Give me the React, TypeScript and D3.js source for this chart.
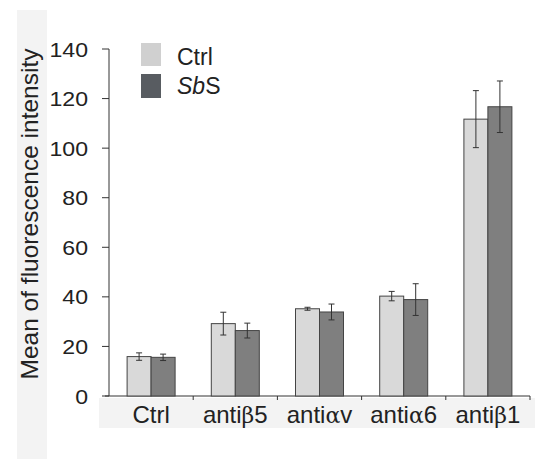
import React from "react";
import * as d3 from "d3";

const categories = ["Ctrl", "antiβ5", "antiαv", "antiα6", "antiβ1"];
const ctrlMeans = [15.9, 29.2, 35.2, 40.3, 111.7];
const ctrlErr = [1.5, 4.6, 0.6, 1.9, 11.5];
const sbsMeans = [15.6, 26.4, 33.9, 38.9, 116.7];
const sbsErr = [1.3, 3.0, 3.2, 6.4, 10.4];
const yTicks = [0, 20, 40, 60, 80, 100, 120, 140];

const W = 542;
const H = 459;
const FONT = "'Liberation Sans', Arial, sans-serif";

export default function App() {
  const x0 = 109, x1 = 530, yTop = 49, yBot = 396;
  const x = d3.scaleBand<string>().domain(categories).range([x0, x1]).padding(0);
  const y = d3.scaleLinear().domain([0, 140]).range([yBot, yTop]);
  const bw = 24;
  const series = [
    { means: ctrlMeans, errs: ctrlErr, fill: "#d9d9d9", off: -bw },
    { means: sbsMeans, errs: sbsErr, fill: "#7f7f7f", off: 0 },
  ];
  const renderLabel = (c: string) => {
    const m = c.match(/^anti([αβ])(.*)$/);
    if (!m) return c;
    return (
      <>
        anti<tspan fontFamily="'DejaVu Serif', serif" fontSize={22}>{m[1]}</tspan>{m[2]}
      </>
    );
  };
  return (
    <svg width={W} height={H} style={{ position: "absolute", left: 0, top: 0, background: "#fff" }}>
      <rect x={17} y={10} width={30} height={449} fill="#f3f3f3" />
      <rect x={99} y={398} width={436} height={30} fill="#f3f3f3" />
      <text
        transform={`translate(38,214) rotate(-90)`}
        textAnchor="middle"
        fontFamily={FONT}
        fontSize={24.5}
        fill="#222"
      >
        Mean of fluorescence intensity
      </text>
      {yTicks.map((t) => (
        <g key={t}>
          <line x1={x0 - 7} x2={x0} y1={y(t)} y2={y(t)} stroke="#333" strokeWidth={1} />
          <text
            transform={`translate(88,${y(t) + 7.5}) scale(1.1,1)`}
            textAnchor="end"
            fontFamily={FONT}
            fontSize={21}
            fill="#222"
          >
            {t}
          </text>
        </g>
      ))}
      <line x1={x0} x2={x0} y1={yTop} y2={yBot} stroke="#333" strokeWidth={1} />
      <line x1={x0 - 4} x2={x1} y1={yBot} y2={yBot} stroke="#333" strokeWidth={1} />
      {categories.map((c, i) => {
        const bx = x(c)! + x.bandwidth();
        return <line key={"t" + i} x1={bx} x2={bx} y1={yBot} y2={yBot + 4} stroke="#333" strokeWidth={1} />;
      })}
      {categories.map((c, i) => {
        const cx = x(c)! + x.bandwidth() / 2;
        return (
          <g key={c}>
            {series.map((s, j) => {
              const left = cx + s.off;
              const v = s.means[i];
              const e = s.errs[i];
              const ec = left + bw / 2;
              return (
                <g key={j}>
                  <rect x={left} y={y(v)} width={bw} height={yBot - y(v)} fill={s.fill} stroke="#444" strokeWidth={1} />
                  <line x1={ec} x2={ec} y1={y(v + e)} y2={y(v - e)} stroke="#333" strokeWidth={1} />
                  <line x1={ec - 3} x2={ec + 3} y1={y(v + e)} y2={y(v + e)} stroke="#333" strokeWidth={1} />
                  <line x1={ec - 3} x2={ec + 3} y1={y(v - e)} y2={y(v - e)} stroke="#333" strokeWidth={1} />
                </g>
              );
            })}
            <text x={cx} y={423} textAnchor="middle" fontFamily={FONT} fontSize={24} fill="#222">
              {renderLabel(c)}
            </text>
          </g>
        );
      })}
      <rect x={141} y={43} width={20} height={23} fill="#d0d0d0" />
      <rect x={141} y={74} width={20} height={24} fill="#585c61" />
      <text x={177} y={64.5} fontFamily={FONT} fontSize={23} fill="#222">Ctrl</text>
      <text x={177} y={93.5} fontFamily={FONT} fontSize={23} fill="#222">
        <tspan fontStyle="italic">Sb</tspan>S
      </text>
    </svg>
  );
}
